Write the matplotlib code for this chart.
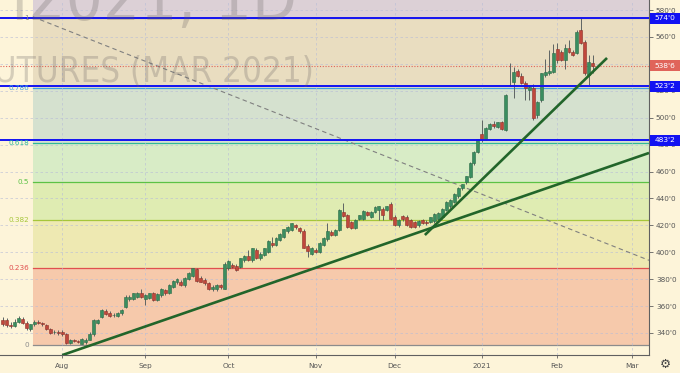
"""
Corn futures daily candles with fib retracement and trend lines (TradingView style)
"""
import matplotlib
matplotlib.use("Agg")
import matplotlib.pyplot as plt
import matplotlib.transforms as mtransforms
from matplotlib.patches import Rectangle
import numpy as np

# ---- data ----
# bar index 0 = 13 Jul 2020, one bar per trading day
month_labels = ["Aug", "Sep", "Oct", "Nov", "Dec", "2021", "Feb", "Mar"]
month_bars = [15, 36, 57, 79, 99, 121, 140, 159]

opens = [
    # Jul
    349.5, 349.5, 346, 345.5, 348.5, 350.5, 347.5, 343, 346.5, 348, 347.5, 346, 343, 340.5, 340.5,
    # Aug
    341, 339.5, 332.5, 334.5, 334, 332, 333, 335, 339, 347.5, 352, 356.5, 355, 353, 352.5, 354.5,
    359.5, 365, 365.5, 367, 370,
    # Sep
    365.5, 366, 369.5, 364.5, 368, 372, 370, 374.5, 377.5, 378, 375.5, 380, 382.5, 387.5, 381,
    379.5, 377, 373, 372.5, 375.5, 373,
    # Oct
    388, 390.5, 389.5, 389, 394, 397.5, 394, 402, 395.5, 398, 400.5, 407, 405.5, 409, 411.5,
    415.5, 416.5, 420, 418, 416, 404.5, 399,
    # Nov
    402, 400.5, 405.5, 409.5, 415, 413, 416.5, 430, 427.5, 422.5, 418, 425, 425, 430, 426.5,
    430, 431.5, 432.5, 431.5, 436,
    # Dec
    426.5, 420, 427, 426.5, 424, 422.5, 420, 424, 422.5, 422.5, 423, 425, 426, 431.5, 434,
    437.5, 441.5, 447.5, 452, 456, 466, 474.5,
    # Jan
    488, 484.5, 491.5, 495.5, 493, 496.5, 490.5, 524.5, 526.5, 534.5, 531, 525.5, 520.5, 522,
    502, 513, 531.5, 533, 534,
    # Feb
    551, 549, 543, 551.5, 549, 548, 565, 556.5, 532, 541,
]
highs = [
    352, 351, 348, 350, 352.5, 352, 349, 347, 349.5, 349.5, 348.5, 347, 344, 342, 342,
    342, 340, 335.5, 335.5, 335, 336, 336, 340.5, 350.5, 350.5, 357.5, 357.5, 356, 354.5, 355.5,
    357.5, 368, 368, 370, 370.5, 373,
    369, 370, 370.5, 369.5, 373.5, 373, 376.5, 379, 381, 379.5, 381.5, 385, 388.5, 388.5, 382,
    380.5, 378, 375.5, 376.5, 376.5, 392.5,
    394, 392, 391, 396, 398, 401.5, 403.5, 403, 400, 403.5, 409, 411.5, 411, 414, 417.5,
    419.5, 422, 421, 419, 417, 406, 404,
    403.5, 407.5, 411, 422, 416.5, 417, 432, 436.5, 428.5, 423.5, 424.5, 428, 431.5, 431, 430.5,
    434, 434.5, 433.5, 434.5, 437,
    427.5, 424.5, 428, 427.5, 425, 423.5, 424, 425, 424, 426.5, 429, 430, 433, 438, 439.5,
    444, 448.5, 451, 457, 467, 475, 484.5,
    498, 493, 496, 497.5, 497, 497.5, 517.5, 541, 538, 536, 533, 527, 524, 525,
    512.5, 533.5, 544, 550, 555,
    555.5, 550, 555, 557.5, 550, 565, 574, 557.5, 546.5, 546.5,
]
lows = [
    345.5, 344.5, 344, 344.5, 347.5, 346.5, 342.5, 341.5, 345.5, 346.5, 345.5, 342, 339.5, 339, 338.5,
    338, 331.5, 331.5, 333, 332.5, 331.5, 332, 334.5, 338, 346.5, 351, 353.5, 352, 351.5, 351.5,
    353.5, 358.5, 364, 364.5, 366, 366,
    361, 365, 364, 363.5, 367, 368.5, 369, 373.5, 376.5, 375, 374.5, 379, 381.5, 378, 377.5,
    376, 372, 371.5, 371.5, 373, 372.5,
    387, 388, 386, 388, 393, 393.5, 393, 395, 394.5, 397, 399.5, 404, 404.5, 408, 410.5,
    414.5, 415.5, 417.5, 414.5, 403, 396.5, 398,
    399.5, 399.5, 404.5, 408.5, 412, 412, 415.5, 426, 418, 417, 417, 424, 424, 427, 425.5,
    429, 424, 424, 430.5, 424,
    419.5, 419, 423.5, 419.5, 418, 418, 419, 421, 420.5, 421.5, 422, 424, 425, 430.5, 433,
    436.5, 440.5, 446, 451, 455, 465, 473.5,
    482, 483.5, 490.5, 492.5, 492, 490.5, 490, 523.5, 514.5, 530, 525, 513.5, 513.5, 498,
    499.5, 512, 530.5, 532, 533,
    540.5, 542, 536.5, 548, 545.5, 547, 554.5, 532, 524.5, 533,
]
closes = [
    347, 346, 345.5, 348.5, 351, 347.5, 343.5, 346.5, 348.5, 347.5, 347, 343, 340, 340.5, 340,
    339, 332.5, 334.5, 334, 333.5, 335.5, 335, 339.5, 349.5, 349.5, 357, 354, 352.5, 353.5, 354.5,
    357, 367, 366.5, 369.5, 369.5, 367,
    368, 369.5, 364.5, 369, 372.5, 369.5, 375.5, 378.5, 380, 375.5, 381, 384.5, 388, 378.5, 378,
    377, 372.5, 374, 376, 374, 391.5,
    393.5, 389, 387, 395.5, 397, 394, 403, 395.5, 399, 403, 408.5, 405.5, 410.5, 413.5, 417,
    419, 421.5, 418.5, 415.5, 403.5, 401, 403.5,
    400.5, 407, 410.5, 415.5, 413, 416.5, 431.5, 427, 419, 418, 424, 427.5, 431, 427.5, 430,
    433.5, 434, 427.5, 434, 424.5,
    420, 424, 424.5, 420, 419, 419, 423.5, 421.5, 422, 426, 428.5, 429.5, 432.5, 437.5, 439,
    443.5, 448, 450.5, 456.5, 466.5, 474.5, 484,
    484, 492, 495.5, 493.5, 496.5, 491.5, 517, 524, 534, 531, 526, 522, 523, 499.5,
    512, 533, 534, 535, 548,
    543, 543, 552, 549, 546.5, 564, 555.5, 533, 541.5, 538.75,
]

# fib retracement anchors and levels
fib_low = 331.0
fib_high = 574.0
fib_start_bar = 7.6
fib_levels = [0, 0.236, 0.382, 0.5, 0.618, 0.786, 1]
fib_names = ["0", "0.236", "0.382", "0.5", "0.618", "0.786", "1"]

# horizontal rays (blue) and trend lines (two anchor points each)
h_levels = [574.0, 523.25, 483.25]
trend_a_bars, trend_a_prices = [15, 163.2], [323.5, 473.8]
trend_b_bars, trend_b_prices = [106.6, 152.6], [412.8, 544.4]
fib_diag_bars, fib_diag_prices = [7.6, 163.2], [575.0, 394.0]

price_ticks = [340, 360, 380, 400, 420, 440, 460, 480, 500, 520, 540, 560, 580]

# ---- style ----
BG = "#fdf4d9"
UP, DOWN = "#3a8e60", "#c0473c"
UP_EDGE, DOWN_EDGE = "#2a6a46", "#8c2f27"
WICK = "#5e6463"
BLUE = "#1212f2"
TREND = "#22652a"
AXIS_TXT = "#555555"
fib_line_colors = ["#8c8c8c", "#e0504f", "#a6c63a", "#5cc245", "#2fb89a", "#3fa3e0", "#8c8c8c"]
fib_fill_colors = ["#f6c9ab", "#eee9b2", "#dfecb2", "#d8ecc6", "#d5e1cf", "#e9ddc0"]
ABOVE_FILL = "#dcd0d6"


def fmt_price(p):
    whole = int(p)
    return f"{whole}'{int(round((p - whole) * 8))}"


W, H = 680, 373
fig = plt.figure(figsize=(W / 100, H / 100), dpi=100, facecolor=BG)
ax = fig.add_axes([0, 18 / H, 649 / W, 355 / H], facecolor=BG)
ax.set_xlim(-0.7, 163.2)
ax.set_ylim(323.6, 587.5)
fig_y = mtransforms.blended_transform_factory(fig.transFigure, ax.transData)

# fib zones
rng = fib_high - fib_low
fib_prices = [fib_low + lv * rng for lv in fib_levels]
xs = [fib_start_bar, 200]
for k in range(len(fib_prices) - 1):
    ax.fill_between(xs, fib_prices[k], fib_prices[k + 1], color=fib_fill_colors[k], lw=0, zorder=0.5)
ax.fill_between(xs, fib_high, 620, color=ABOVE_FILL, lw=0, zorder=0.5)
for p, col, name in zip(fib_prices, fib_line_colors, fib_names):
    ax.plot(xs, [p, p], color=col, lw=0.9, zorder=1.2)
    ax.text(29 / W, p, name, transform=fig_y, ha="right", va="center",
            fontsize=5.2, color=col, zorder=8)

# grid
ax.set_axisbelow(False)
ax.grid(True, color="#b8bdd6", ls=(0, (3, 3)), lw=0.6, alpha=0.7)

# fib diagonal (dashed)
ax.plot(fib_diag_bars, fib_diag_prices, color="#808080", lw=0.8, ls=(0, (4, 3)), zorder=2.8)

# candles
o, hi, lo, c = (np.array(a, dtype=float) for a in (opens, highs, lows, closes))
bars = np.arange(len(c))
up = c >= o
ax.vlines(bars, lo, hi, colors=WICK, lw=0.7, zorder=3)
ax.bar(bars, np.maximum(np.abs(c - o), 0.5), bottom=np.minimum(o, c), width=0.75,
       color=np.where(up, UP, DOWN), edgecolor=np.where(up, UP_EDGE, DOWN_EDGE),
       linewidth=0.4, zorder=4)

# last price dotted line
last = closes[-1]
ax.axhline(last, color="#e0645a", lw=0.8, ls=(0, (1, 1.5)), zorder=2.9)

# horizontal rays
for p in h_levels:
    ax.axhline(p, color=BLUE, lw=1.4, zorder=5)

# trend lines
ax.plot(trend_a_bars, trend_a_prices, color=TREND, lw=1.9, zorder=6, solid_capstyle="butt")
ax.plot(trend_b_bars, trend_b_prices, color=TREND, lw=1.9, zorder=6, solid_capstyle="butt")

# axes
for s in ("top", "left"):
    ax.spines[s].set_visible(False)
for s in ("right", "bottom"):
    ax.spines[s].set_color("#606060")
    ax.spines[s].set_linewidth(0.8)
ax.yaxis.tick_right()
ax.set_yticks(price_ticks)
ax.set_yticklabels([fmt_price(p) for p in price_ticks])
ax.set_xticks(month_bars)
ax.set_xticklabels(month_labels)
ax.tick_params(axis="y", length=3, width=0.6, color="#606060", pad=2,
               labelsize=5.2, labelcolor=AXIS_TXT)
ax.tick_params(axis="x", length=2.5, width=0.6, color="#606060", pad=3,
               labelsize=5.2, labelcolor=AXIS_TXT)

# price boxes on the right scale
box_h = 11 / 1.345
for p, fc in [(p, BLUE) for p in h_levels] + [(last, "#e0645a")]:
    ax.add_patch(Rectangle((650 / W, p - box_h / 2), 30 / W, box_h, transform=fig_y,
                           facecolor=fc, edgecolor="none", clip_on=False, zorder=10))
    ax.text(665 / W, p, fmt_price(p), transform=fig_y, ha="center", va="center",
            fontsize=5.4, color="white", zorder=11, clip_on=False)

# watermark (symbol, then description), cut by the top/left edge as in the screenshot
wm_col = (0.40, 0.38, 0.38, 0.26)
fig.text(297 / W, 1 - 20 / H, "ZCH2021, 1D", ha="right", va="baseline",
         fontsize=47, color=wm_col, fontstretch="condensed")
fig.text(314 / W, 1 - 82 / H, "CORN FUTURES (MAR 2021)", ha="right", va="baseline",
         fontsize=25, color=wm_col, fontstretch="condensed")

# settings gear
fig.text(665 / W, 1 - 364 / H, "\u2699", ha="center", va="center", fontsize=9, color="#444444")

fig.savefig("out.png", dpi=100, facecolor=BG)
plt.close(fig)
